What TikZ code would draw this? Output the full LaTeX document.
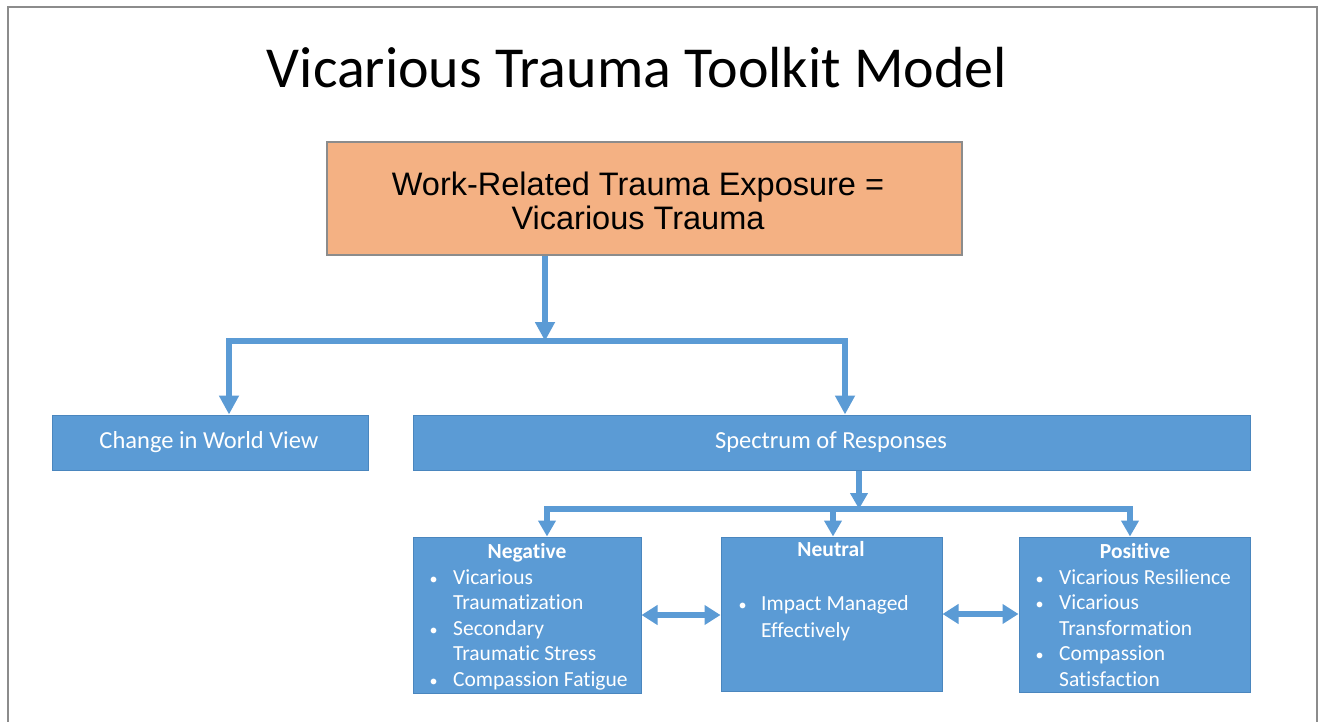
\documentclass[tikz,border=0pt]{standalone}
\usepackage{fontspec}
\setmainfont{Carlito}[Ligatures=NoCommon]
\newfontfamily\arialf{Liberation Sans}
\usetikzlibrary{arrows.meta}
\definecolor{boxblue}{HTML}{5B9BD5}
\definecolor{boxedge}{HTML}{4A86BE}
\definecolor{orangefill}{HTML}{F4B183}
\definecolor{framegray}{HTML}{8C8C8C}
\tikzset{
  blk/.style={draw=boxedge, line width=1pt, fill=boxblue, inner sep=0pt},
  orangebox/.style={draw=framegray, line width=1.2pt, fill=orangefill, inner sep=0pt},
  wtxt/.style={text=white, inner sep=0pt, font=\fontsize{24.5}{28}\selectfont},
  head/.style={text=white, inner sep=0pt, font=\fontsize{21.5}{25.5}\selectfont\bfseries},
  conn/.style={draw=boxblue, line width=5.5pt},
  arr/.style={conn, -{Triangle[width=19pt,length=19pt]}},
  arrs/.style={conn, -{Triangle[width=17pt,length=16pt]}},
  darr/.style={conn, {Triangle[width=19pt,length=16pt]}-{Triangle[width=19pt,length=16pt]}},
}
\newcommand{\bl}{\hspace{1.5pt}\scalebox{0.75}{\textbullet}}
\begin{document}
\begin{tikzpicture}[x=1pt,y=-1pt]
\useasboundingbox (0,0) rectangle (1321,722);
\fill[white] (0,0) rectangle (1321,722);
% frame
\draw[framegray, line width=2pt] (8,722) -- (8,7) -- (1317,7) -- (1317,722);
% title
\node[inner sep=0pt, font=\fontsize{58}{60}\selectfont] (title) at (637,68) {Vicarious Trauma Toolkit Model};
% top box
\node[orangebox, minimum width=635pt, minimum height=113pt] (top) at (644.5,198.5) {};
\node[inner sep=0pt, align=center, font=\arialf\fontsize{32.5}{34}\selectfont] (toptxt) at (638,201)
  {Work-Related Trauma Exposure =\\Vicarious Trauma};
% second level
\node[blk, minimum width=316pt, minimum height=55pt] (cwv) at (210,442.5) {};
\node[wtxt] (cwvtxt) at (209,442) {Change in World View};
\node[blk, minimum width=837pt, minimum height=55pt] (spec) at (831.5,442.5) {};
\node[wtxt] (spectxt) at (831,442) {Spectrum of Responses};
% third level
\node[blk, minimum width=228pt, minimum height=156pt] (neg) at (527,615) {};
\node[blk, minimum width=221pt, minimum height=154pt] (neu) at (831.5,614) {};
\node[blk, minimum width=231pt, minimum height=155pt] (pos) at (1134.5,614.5) {};
\node[head, anchor=base] (negh) at (527,558) {Negative};
\node[head, anchor=base] (neuh) at (831,556) {Neutral};
\node[head, anchor=base] (posh) at (1135,558) {Positive};
\node[wtxt, anchor=base west, font=\fontsize{21.5}{25.5}\selectfont] (negl) at (428,584)
 {\begin{tabular}[t]{@{}p{25pt}@{}l@{}}
  \bl & Vicarious\\ & Traumatization\\ \bl & Secondary\\ & Traumatic Stress\\ \bl & Compassion Fatigue
 \end{tabular}};
\node[wtxt, anchor=base west, font=\fontsize{21.5}{27}\selectfont] (neul) at (737,610)
 {\begin{tabular}[t]{@{}p{24pt}@{}l@{}}
  \bl & Impact Managed\\ & Effectively
 \end{tabular}};
\node[wtxt, anchor=base west, font=\fontsize{21.5}{25.5}\selectfont] (posl) at (1034,584)
 {\begin{tabular}[t]{@{}p{25pt}@{}l@{}}
  \bl & Vicarious Resilience\\ \bl & Vicarious\\ & Transformation\\ \bl & Compassion\\ & Satisfaction
 \end{tabular}};
% connectors level 1
\coordinate (h1) at (545,341);
\coordinate (h1l) at (229,341);
\coordinate (h1r) at (845,341);
\draw[arr] (top.south -| h1) -- (h1);
\draw[conn] ([xshift=-2.75pt]h1l) -- ([xshift=2.75pt]h1r);
\draw[arr] (h1l) -- (h1l |- cwv.north);
\draw[arr] (h1r) -- (h1r |- spec.north);
% connectors level 2
\coordinate (h2) at (859,509);
\coordinate (h2l) at (547,509);
\coordinate (h2m) at (833,509);
\coordinate (h2r) at (1130,509);
\draw[arrs] (spec.south -| h2) -- (h2);
\draw[conn] ([xshift=-2.75pt]h2l) -- ([xshift=2.75pt]h2r);
\draw[arrs] (h2l) -- (h2l |- neg.north);
\draw[arrs] (h2m) -- (h2m |- neu.north);
\draw[arrs] (h2r) -- (h2r |- pos.north);
% double arrows
\draw[darr] (neg.east) -- (neg.east -| neu.west);
\draw[darr] (neu.east) -- (neu.east -| pos.west);
\end{tikzpicture}
\end{document}
